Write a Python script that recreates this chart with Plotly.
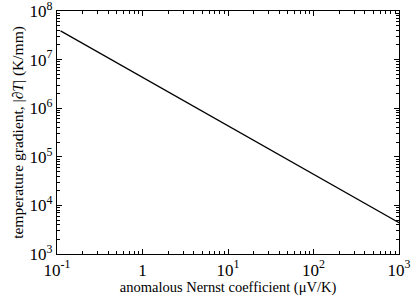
import plotly.graph_objects as go

x_vals = [0.11, 1000]
y_vals = [3.9e7, 4.4e3]

x_tickvals = [0.1, 1, 10, 100, 1000]
x_ticktext = ["10<sup>-1</sup>", "1", "10<sup>1</sup>", "10<sup>2</sup>", "10<sup>3</sup>"]
y_tickvals = [1e3, 1e4, 1e5, 1e6, 1e7, 1e8]
y_ticktext = ["10<sup>3</sup>", "10<sup>4</sup>", "10<sup>5</sup>", "10<sup>6</sup>", "10<sup>7</sup>", "10<sup>8</sup>"]


def minor_vals(lo, hi):
    out = []
    for e in range(lo, hi):
        for m in range(2, 10):
            out.append(m * 10.0 ** e)
    return out


fig = go.Figure(go.Scatter(x=x_vals, y=y_vals, mode="lines",
                           line=dict(color="black", width=1.2), showlegend=False))

font = dict(family="Liberation Serif", size=17, color="black")
common = dict(type="log", showgrid=False, zeroline=False, showline=True,
              linecolor="black", linewidth=1.2, mirror="allticks",
              ticks="inside", ticklen=5, tickcolor="black", tickwidth=1,
              tickfont=font, automargin=False, ticklabeloverflow="allow")

fig.update_xaxes(range=[-1, 3], tickvals=x_tickvals, ticktext=x_ticktext,
                 minor=dict(tickvals=minor_vals(-1, 3), ticks="inside", ticklen=3,
                            tickcolor="black", showgrid=False),
                 title=dict(text="anomalous Nernst coefficient (μV/K)",
                            font=dict(family="Liberation Serif", size=14.5, color="black"),
                            standoff=2),
                 **common)
fig.update_yaxes(range=[3, 8], tickvals=y_tickvals, ticktext=y_ticktext,
                 minor=dict(tickvals=minor_vals(3, 8), ticks="inside", ticklen=3,
                            tickcolor="black", showgrid=False),
                 title=dict(text="temperature gradient, |∂<i>T</i>| (K/mm)",
                            font=dict(family="Liberation Serif", size=15.5, color="black"),
                            standoff=2),
                 **common)

fig.update_layout(width=416, height=302,
                  margin=dict(l=57, r=17, t=11, b=48, autoexpand=False),
                  plot_bgcolor="white", paper_bgcolor="white", font=font)
fig.write_html("out.html", config={"displayModeBar": False},
               post_script="document.body.style.margin='0';document.body.style.overflow='hidden';")
